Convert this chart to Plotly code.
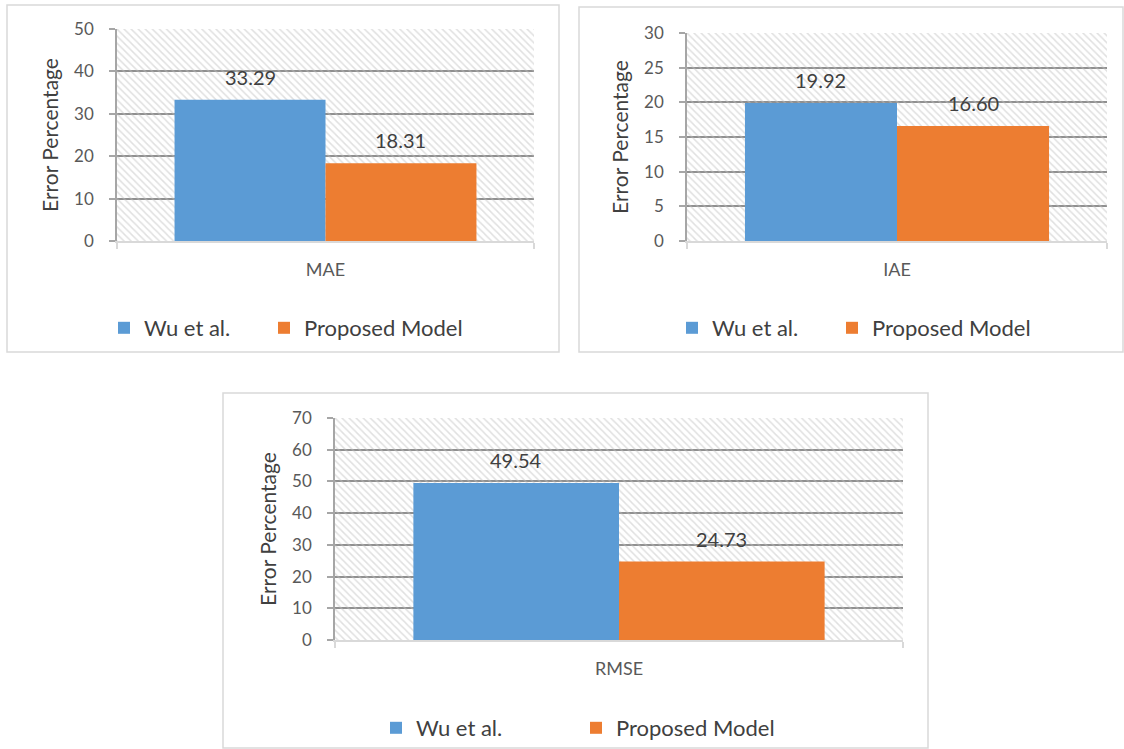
import plotly.graph_objects as go

# ---------------- data ----------------
metrics = ["MAE", "IAE", "RMSE"]
wu_values = [33.29, 19.92, 49.54]
proposed_values = [18.31, 16.60, 24.73]
series_names = ["Wu et al.", "Proposed Model"]
y_max = [50, 30, 70]
y_step = [10, 5, 10]
y_title = "Error Percentage"

# ---------------- style ----------------
W, H = 1124, 749
FONT = "Lato"
BLUE = "#5B9BD5"
ORANGE = "#ED7D31"
GRID = "#8f8f8f"
AXIS_LIGHT = "#d9d9d9"
TXT_DARK = "#404040"
TXT_GREY = "#595959"
BW = 0.362  # bar width in category units

# pixel layout of each panel: plot area (x0, x1, ytop, ybottom), box, legend icon centres (x_blue, x_orange, y)
panels = [
    dict(plot=(117, 534, 29, 241), box=(7, 559, 5, 352), legend=(128, 288, 328)),
    dict(plot=(687, 1107, 33, 241), box=(579, 1123, 7, 352), legend=(696, 856, 328)),
    dict(plot=(335, 903, 418, 640), box=(223, 928, 393, 748), legend=(400, 600, 728)),
]


def px_x(v):
    return v / W


def px_y(v):
    return 1 - v / H


fig = go.Figure()
layout = dict(
    width=W, height=H, autosize=False,
    margin=dict(l=0, r=0, t=0, b=0, autoexpand=False),
    paper_bgcolor="white", plot_bgcolor="white",
    barmode="overlay",
    font=dict(family=FONT, color=TXT_DARK),
    shapes=[], annotations=[],
)

for i, (m, wu, pr, ym, ys, pnl) in enumerate(zip(metrics, wu_values, proposed_values, y_max, y_step, panels)):
    sfx = "" if i == 0 else str(i + 1)
    xa, ya = "x" + sfx, "y" + sfx
    x0, x1, yt, yb = pnl["plot"]
    lb, lo, ly = pnl["legend"]
    leg_blue = "legend" + ("" if i == 0 else str(2 * i + 1))
    leg_orange = "legend" + str(2 * i + 2)

    # hatched plot background
    fig.add_trace(go.Bar(
        x=[m], y=[ym], width=1, offset=-0.5, xaxis=xa, yaxis=ya,
        marker=dict(color="rgba(0,0,0,0)", line_width=0,
                    pattern=dict(shape="\\", fgcolor="#c2c2c2", size=5, solidity=0.3)),
        showlegend=False, hoverinfo="skip",
    ))
    fig.add_trace(go.Bar(
        x=[m], y=[wu], width=BW, offset=-BW, xaxis=xa, yaxis=ya,
        name=series_names[0], marker=dict(color=BLUE, line_width=0), legend=leg_blue,
    ))
    fig.add_trace(go.Bar(
        x=[m], y=[pr], width=BW, offset=0, xaxis=xa, yaxis=ya,
        name=series_names[1], marker=dict(color=ORANGE, line_width=0), legend=leg_orange,
    ))

    for val, pos in ((wu, -BW / 2), (pr, BW / 2)):
        layout["annotations"].append(dict(
            x=pos, y=val, xref=xa, yref=ya, text=f"{val:.2f}", showarrow=False,
            yshift=23, font=dict(size=20, color=TXT_DARK, family=FONT),
        ))

    layout["xaxis" + sfx] = dict(
        domain=[px_x(x0), px_x(x1)], anchor=ya, type="category", range=[-0.5, 0.5],
        showgrid=False, showline=True, linecolor=AXIS_LIGHT, linewidth=1.5,
        ticks="outside", tickson="boundaries", ticklen=6, tickcolor=AXIS_LIGHT, tickwidth=1.5,
        tickfont=dict(size=18, color=TXT_GREY, family=FONT), ticklabelstandoff=12,
        fixedrange=True,
    )
    layout["yaxis" + sfx] = dict(
        domain=[px_y(yb), px_y(yt)], anchor=xa, range=[0, ym], dtick=ys, tick0=0,
        showgrid=True, gridcolor=GRID, gridwidth=1.6, zeroline=False,
        showline=True, linecolor="#a6a6a6", linewidth=1.5,
        ticks="outside", ticklen=6, tickcolor="#a6a6a6", tickwidth=1.5,
        tickfont=dict(size=17, color=TXT_GREY, family=FONT), ticklabelstandoff=12,
        title=dict(text=y_title, font=dict(size=21, color=TXT_DARK, family=FONT), standoff=10),
        fixedrange=True,
    )
    for leg, cx in ((leg_blue, lb), (leg_orange, lo)):
        layout[leg] = dict(
            x=px_x(cx - 24), y=px_y(ly), xref="paper", yref="paper",
            xanchor="left", yanchor="middle",
            orientation="h", bgcolor="rgba(0,0,0,0)",
            font=dict(size=22, color=TXT_DARK, family=FONT),
            itemclick=False, itemdoubleclick=False,
        )
    bx0, bx1, by0, by1 = pnl["box"]
    layout["shapes"].append(dict(
        type="rect", xref="paper", yref="paper", layer="below",
        x0=px_x(bx0), x1=px_x(bx1), y0=px_y(by1), y1=px_y(by0),
        line=dict(color=AXIS_LIGHT, width=1.5), fillcolor="rgba(0,0,0,0)",
    ))

fig.update_layout(**layout)
fig.write_html("out.html")
